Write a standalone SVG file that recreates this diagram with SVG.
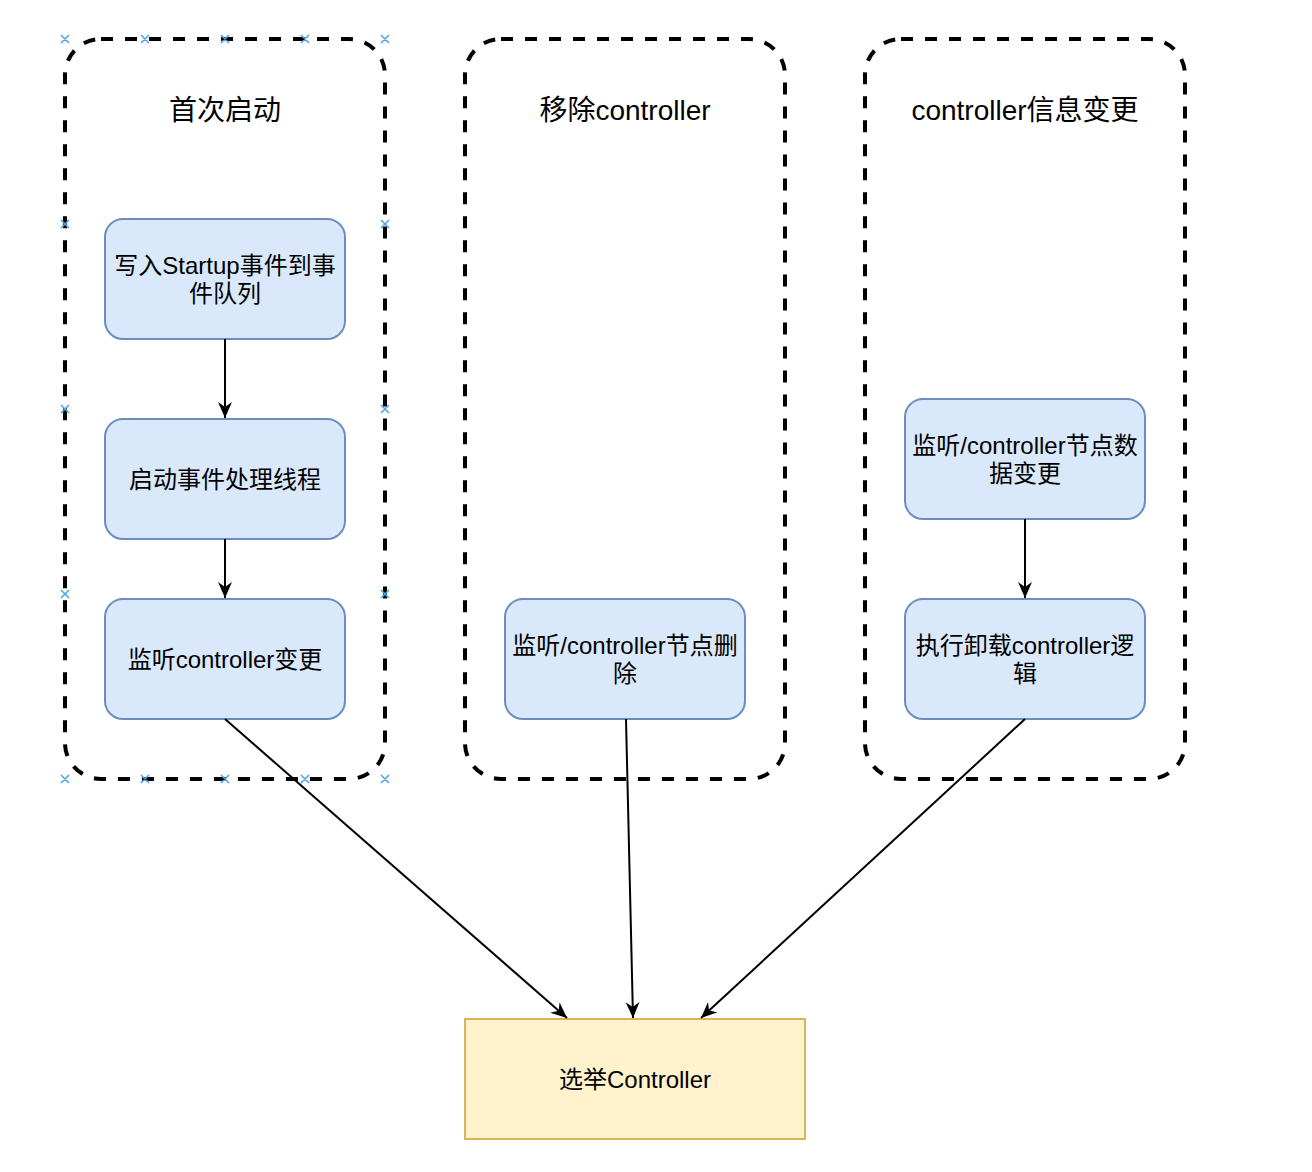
<svg xmlns="http://www.w3.org/2000/svg" width="1312" height="1172" viewBox="0 0 1312 1172">
<style>
.bg{fill:#ffffff}
.container{fill:none;stroke:#000000;stroke-width:4;stroke-dasharray:12 12}
.node{fill:#dae8fc;stroke:#6c8ebf;stroke-width:2}
.target{fill:#fff2cc;stroke:#d6b656;stroke-width:2}
.title{font-family:"Liberation Sans","Noto Sans CJK SC",sans-serif;font-size:28px;fill:#000000;text-anchor:middle}
.label{font-family:"Liberation Sans","Noto Sans CJK SC",sans-serif;font-size:24px;fill:#000000;text-anchor:middle}
.edge{fill:none;stroke:#000000;stroke-width:2}
.handle{fill:none;stroke:#4aa8e8;stroke-width:1.6}
</style>
<defs>
<marker id="arrow" viewBox="0 0 16 14" refX="16" refY="7" markerWidth="16" markerHeight="14" markerUnits="userSpaceOnUse" orient="auto">
<path d="M0,0 L16,7 L0,14 L5,7 Z" fill="#000000"/>
</marker>
</defs>
<rect class="bg" x="0" y="0" width="1312" height="1172"/>

<g id="container-first-start">
<rect class="container" x="65" y="39" width="320" height="740" rx="36" ry="36"/>
<text class="title" x="225" y="120">首次启动</text>
</g>
<g id="container-remove">
<rect class="container" x="465" y="39" width="320" height="740" rx="36" ry="36"/>
<text class="title" x="625" y="120">移除controller</text>
</g>
<g id="container-change">
<rect class="container" x="865" y="39" width="320" height="740" rx="36" ry="36"/>
<text class="title" x="1025" y="120">controller信息变更</text>
</g>

<g id="node-write-startup">
<rect class="node" x="105" y="219" width="240" height="120" rx="18" ry="18"/>
<text class="label" x="225" y="274">写入Startup事件到事</text>
<text class="label" x="225" y="302">件队列</text>
</g>
<g id="node-start-thread">
<rect class="node" x="105" y="419" width="240" height="120" rx="18" ry="18"/>
<text class="label" x="225" y="488">启动事件处理线程</text>
</g>
<g id="node-listen-change">
<rect class="node" x="105" y="599" width="240" height="120" rx="18" ry="18"/>
<text class="label" x="225" y="668">监听controller变更</text>
</g>
<g id="node-listen-delete">
<rect class="node" x="505" y="599" width="240" height="120" rx="18" ry="18"/>
<text class="label" x="625" y="654">监听/controller节点删</text>
<text class="label" x="625" y="682">除</text>
</g>
<g id="node-listen-data">
<rect class="node" x="905" y="399" width="240" height="120" rx="18" ry="18"/>
<text class="label" x="1025" y="454">监听/controller节点数</text>
<text class="label" x="1025" y="482">据变更</text>
</g>
<g id="node-unload">
<rect class="node" x="905" y="599" width="240" height="120" rx="18" ry="18"/>
<text class="label" x="1025" y="654">执行卸载controller逻</text>
<text class="label" x="1025" y="682">辑</text>
</g>
<g id="node-elect">
<rect class="target" x="465" y="1019" width="340" height="120"/>
<text class="label" x="635" y="1088">选举Controller</text>
</g>

<g id="connectors">
<line class="edge" x1="225" y1="339" x2="225" y2="418" marker-end="url(#arrow)"/>
<line class="edge" x1="225" y1="539" x2="225" y2="598" marker-end="url(#arrow)"/>
<line class="edge" x1="225" y1="719" x2="567" y2="1018" marker-end="url(#arrow)"/>
<line class="edge" x1="626" y1="719" x2="633" y2="1018" marker-end="url(#arrow)"/>
<line class="edge" x1="1025" y1="519" x2="1025" y2="598" marker-end="url(#arrow)"/>
<line class="edge" x1="1025" y1="719" x2="701" y2="1018" marker-end="url(#arrow)"/>
</g>

<g id="selection-handles">
<path class="handle" d="M61,35 l8,8 M69,35 l-8,8 M141,35 l8,8 M149,35 l-8,8 M221,35 l8,8 M229,35 l-8,8 M301,35 l8,8 M309,35 l-8,8 M381,35 l8,8 M389,35 l-8,8"/>
<path class="handle" d="M61,775 l8,8 M69,775 l-8,8 M141,775 l8,8 M149,775 l-8,8 M221,775 l8,8 M229,775 l-8,8 M301,775 l8,8 M309,775 l-8,8 M381,775 l8,8 M389,775 l-8,8"/>
<path class="handle" d="M61,220 l8,8 M69,220 l-8,8 M381,220 l8,8 M389,220 l-8,8 M61,405 l8,8 M69,405 l-8,8 M381,405 l8,8 M389,405 l-8,8 M61,590 l8,8 M69,590 l-8,8 M381,590 l8,8 M389,590 l-8,8"/>
</g>
</svg>
